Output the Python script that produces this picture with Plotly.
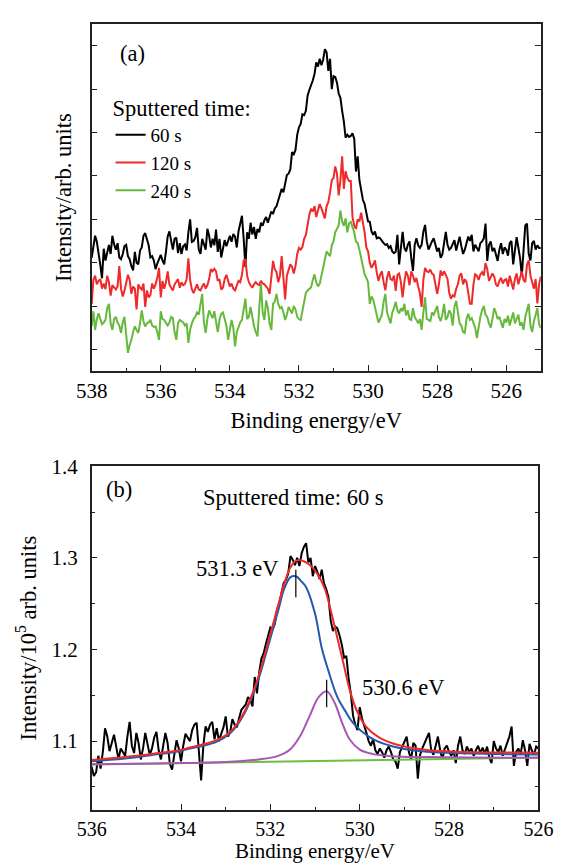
import numpy as np
import plotly.graph_objects as go

# ---------------- Panel (a): O 1s spectra, arbitrary units ----------------
# energies run from 538.00 eV down to 525.00 eV in 0.05 eV steps (one row = 1 eV)
a_start, a_step = 538.0, 0.05
int_60s = [
    2.11, 2.34, 2.62, 2.48, 2.26, 1.95, 1.64, 2.32, 2.05, 2.28, 2.41, 2.20, 2.62, 2.42, 2.30, 2.45, 2.12, 2.08, 2.20, 2.38,
    2.41, 2.15, 2.08, 1.92, 1.82, 2.25, 2.00, 1.96, 2.28, 2.35, 2.62, 2.68, 2.55, 2.40, 2.12, 2.15, 2.05, 1.85, 1.98, 2.10,
    2.18, 2.05, 1.96, 2.25, 2.60, 2.72, 2.48, 2.30, 2.55, 2.58, 2.22, 2.45, 2.20, 2.38, 2.42, 2.28, 2.70, 3.00, 2.48, 2.50,
    2.58, 2.80, 2.30, 2.20, 2.55, 2.42, 2.30, 2.78, 2.62, 2.35, 2.55, 2.40, 2.76, 2.25, 2.55, 2.12, 2.30, 2.52, 2.38, 2.50,
    2.62, 2.48, 2.66, 2.60, 2.35, 2.72, 2.90, 3.08, 2.55, 1.90, 2.70, 2.55, 2.92, 2.65, 2.82, 2.55, 2.78, 2.70, 2.92, 2.85,
    2.98, 3.05, 2.92, 3.08, 3.18, 3.12, 3.25, 3.30, 3.45, 3.55, 3.70, 3.62, 3.85, 4.02, 4.05, 4.15, 4.55, 4.50, 4.60, 4.95,
    5.12, 5.20, 5.42, 5.40, 5.50, 5.85, 5.98, 6.08, 6.20, 6.35, 6.62, 6.52, 6.70, 6.55, 6.68, 6.92, 6.85, 6.42, 6.70, 6.00,
    6.30, 6.28, 6.15, 5.90, 5.80, 5.50, 5.25, 4.88, 4.95, 4.90, 4.92, 4.98, 4.85, 4.10, 4.45, 3.90, 3.70, 3.45, 3.35, 3.15,
    2.95, 2.94, 2.72, 2.64, 2.72, 2.56, 2.58, 2.56, 2.49, 2.45, 2.41, 2.43, 2.34, 2.38, 2.26, 2.22, 2.25, 2.64, 1.96, 2.40,
    2.71, 2.34, 2.26, 2.41, 2.49, 2.11, 1.81, 2.41, 2.56, 2.40, 2.34, 2.41, 2.71, 2.87, 2.49, 2.30, 2.41, 2.49, 2.56, 2.38,
    2.26, 2.34, 2.11, 2.19, 2.49, 2.71, 2.41, 2.30, 2.34, 2.45, 2.52, 2.28, 2.41, 2.60, 2.38, 2.20, 2.30, 2.45, 2.60, 2.50,
    2.64, 2.26, 2.41, 2.34, 2.26, 2.45, 2.49, 2.56, 2.90, 2.04, 2.41, 2.49, 2.26, 2.34, 2.19, 2.04, 2.30, 2.45, 2.20, 2.35,
    2.30, 2.16, 2.45, 2.50, 1.96, 2.30, 2.59, 2.35, 2.10, 1.70, 2.40, 2.86, 2.90, 2.20, 2.05, 2.45, 2.50, 2.30, 2.40, 2.34,
    2.34,
]
int_120s = [
    1.05, 1.60, 1.70, 1.50, 1.58, 1.62, 1.40, 1.52, 1.39, 1.70, 1.55, 1.24, 1.48, 1.42, 1.38, 1.45, 1.92, 1.40, 1.22, 1.35,
    1.58, 1.72, 1.60, 1.28, 1.45, 1.40, 0.92, 1.50, 1.42, 1.38, 1.52, 0.98, 1.36, 1.20, 1.25, 1.52, 1.40, 1.50, 1.65, 1.88,
    1.20, 1.58, 1.40, 1.55, 1.80, 1.50, 1.42, 1.36, 1.50, 1.55, 1.62, 1.42, 1.55, 1.48, 1.51, 1.62, 2.10, 1.60, 1.38, 1.30,
    1.42, 1.50, 1.38, 1.36, 1.45, 1.52, 1.40, 1.48, 1.62, 1.85, 1.80, 1.86, 1.80, 1.58, 1.62, 1.38, 1.42, 1.62, 1.72, 1.55,
    1.45, 1.52, 1.40, 1.36, 1.48, 1.58, 1.55, 1.72, 2.05, 2.08, 1.70, 1.55, 1.48, 1.42, 1.50, 1.55, 1.50, 1.48, 1.58, 1.52,
    1.50, 1.46, 1.40, 1.28, 1.62, 2.04, 1.85, 1.78, 1.55, 1.70, 2.15, 1.60, 1.15, 1.70, 1.85, 1.96, 1.90, 1.75, 1.92, 2.20,
    2.34, 2.30, 2.36, 2.55, 2.64, 2.90, 3.10, 3.24, 3.18, 3.30, 3.05, 3.20, 3.35, 3.25, 3.12, 3.02, 3.30, 3.40, 3.62, 3.90,
    3.95, 4.22, 4.05, 3.55, 3.90, 4.45, 3.70, 4.11, 3.95, 3.88, 3.88, 3.05, 2.86, 2.78, 3.00, 2.95, 3.15, 2.92, 2.70, 2.35,
    2.26, 2.00, 1.88, 1.95, 2.05, 1.78, 1.58, 1.72, 1.80, 1.55, 1.36, 1.65, 1.80, 1.62, 1.60, 1.70, 1.35, 1.72, 1.75, 1.55,
    1.20, 1.55, 1.80, 1.70, 1.48, 1.80, 1.70, 1.55, 1.65, 1.45, 1.30, 0.98, 1.60, 1.88, 1.80, 1.78, 1.84, 1.75, 1.72, 1.50,
    1.28, 1.50, 1.82, 1.70, 1.80, 1.72, 1.62, 1.30, 1.17, 1.25, 1.22, 1.40, 1.50, 1.70, 1.75, 1.50, 1.62, 1.55, 1.28, 1.05,
    1.05, 1.50, 1.73, 1.70, 1.60, 1.73, 1.78, 1.70, 1.99, 1.85, 1.58, 1.65, 1.75, 1.68, 1.50, 1.45, 1.58, 1.65, 1.52, 1.60,
    1.62, 1.45, 1.70, 1.55, 1.38, 1.62, 1.75, 1.50, 1.66, 1.80, 1.60, 1.55, 1.95, 2.05, 1.70, 1.55, 1.40, 1.62, 1.06, 1.50,
    1.68,
]
int_240s = [
    0.53, 0.88, 0.45, 0.70, 0.83, 0.72, 0.58, 0.62, 0.68, 0.95, 1.05, 0.60, 0.45, 0.70, 0.75, 0.62, 0.55, 0.38, 0.62, 0.75,
    0.30, -0.08, 0.10, 0.22, 0.40, 0.53, 0.45, 0.38, 0.60, 0.90, 0.65, 0.53, 0.60, 0.62, 0.68, 0.55, 0.52, 0.53, 0.40, 0.22,
    0.88, 0.70, 0.68, 0.60, 0.55, 0.62, 0.75, 0.72, 0.40, 0.22, 0.60, 0.68, 0.65, 0.62, 0.55, 0.60, 0.15, 0.45, 0.60, 0.70,
    0.75, 0.85, 0.80, 1.05, 1.28, 0.62, 0.38, 0.70, 0.90, 0.80, 0.72, 0.88, 0.60, 0.40, 0.68, 0.82, 0.85, 0.70, 0.55, 0.22,
    0.45, 0.68, 0.50, 0.07, 0.40, 0.53, 0.62, 0.68, 0.90, 1.17, 0.70, 0.75, 0.98, 0.72, 0.53, 0.40, 0.30, 0.95, 1.51, 0.85,
    0.68, 1.13, 0.95, 0.60, 0.45, 1.05, 1.10, 1.28, 1.05, 0.95, 0.98, 0.85, 0.68, 0.80, 0.98, 0.90, 0.83, 1.00, 0.92, 0.75,
    0.70, 0.68, 0.88, 1.13, 1.30, 1.36, 1.40, 1.43, 1.60, 1.73, 1.55, 1.45, 1.51, 1.70, 1.88, 2.10, 2.26, 2.20, 2.15, 2.40,
    2.49, 2.70, 2.79, 2.86, 3.20, 2.95, 2.85, 3.02, 2.70, 2.90, 2.94, 2.80, 2.70, 2.49, 2.45, 2.30, 2.12, 1.95, 1.73, 1.65,
    1.55, 1.05, 1.22, 1.15, 0.95, 0.78, 0.62, 0.70, 0.80, 1.10, 1.28, 0.85, 0.70, 0.60, 0.85, 0.95, 1.10, 0.90, 0.83, 0.95,
    0.88, 1.05, 0.78, 0.90, 0.70, 0.68, 0.95, 0.75, 0.68, 0.60, 0.70, 0.45, 0.85, 1.20, 0.70, 0.68, 0.64, 0.85, 0.80, 0.90,
    1.00, 0.75, 0.65, 0.80, 1.05, 0.68, 0.75, 0.90, 0.82, 0.55, 0.98, 1.12, 0.83, 0.60, 0.55, 0.40, 0.38, 0.70, 0.82, 0.68,
    0.72, 0.60, 0.50, 0.26, 0.55, 0.75, 0.90, 1.00, 0.80, 0.75, 0.60, 0.50, 0.70, 0.95, 0.85, 0.70, 0.75, 0.60, 0.50, 0.70,
    0.62, 0.78, 0.55, 0.70, 0.85, 0.60, 0.72, 0.80, 0.55, 0.62, 0.45, 0.75, 0.90, 1.05, 0.55, 0.40, 0.65, 0.80, 0.95, 0.58,
    0.49,
]
a_series = [("60 s", int_60s, "#000000"), ("120 s", int_120s, "#ee2a2a"), ("240 s", int_240s, "#67b93e")]

# ---------------- Panel (b): 60 s spectrum with fit (10^5 arb. units) ----------------
b_start, b_step = 536.0, 0.05
raw_60s = [
    1.072, 1.062, 1.066, 1.084, 1.070, 1.088, 1.114, 1.105, 1.089, 1.098, 1.107, 1.094, 1.080, 1.092, 1.088, 1.084, 1.105, 1.121, 1.095, 1.087,
    1.109, 1.098, 1.080, 1.092, 1.109, 1.098, 1.085, 1.092, 1.104, 1.110, 1.090, 1.080, 1.095, 1.109, 1.098, 1.075, 1.069, 1.085, 1.101, 1.092,
    1.078, 1.095, 1.108, 1.104, 1.100, 1.112, 1.118, 1.120, 1.085, 1.057, 1.095, 1.116, 1.110, 1.118, 1.121, 1.102, 1.114, 1.100, 1.108, 1.115,
    1.127, 1.105, 1.110, 1.124, 1.118, 1.115, 1.125, 1.134, 1.137, 1.140, 1.148, 1.145, 1.138, 1.170, 1.152, 1.175, 1.190, 1.196, 1.206, 1.215,
    1.224, 1.222, 1.228, 1.244, 1.250, 1.262, 1.273, 1.276, 1.283, 1.302, 1.298, 1.292, 1.300, 1.291, 1.305, 1.312, 1.316, 1.295, 1.300, 1.280,
    1.291, 1.285, 1.277, 1.287, 1.272, 1.266, 1.257, 1.232, 1.220, 1.225, 1.223, 1.215, 1.205, 1.191, 1.193, 1.169, 1.152, 1.128, 1.118, 1.112,
    1.137, 1.125, 1.118, 1.109, 1.100, 1.095, 1.102, 1.090, 1.086, 1.092, 1.088, 1.082, 1.090, 1.094, 1.088, 1.080, 1.078, 1.070, 1.088, 1.094,
    1.100, 1.105, 1.088, 1.080, 1.098, 1.095, 1.059, 1.085, 1.092, 1.098, 1.105, 1.109, 1.090, 1.085, 1.095, 1.105, 1.090, 1.080, 1.092, 1.095,
    1.088, 1.084, 1.090, 1.076, 1.095, 1.105, 1.090, 1.086, 1.094, 1.088, 1.092, 1.084, 1.090, 1.095, 1.087, 1.093, 1.086, 1.094, 1.082, 1.076,
    1.100, 1.092, 1.088, 1.095, 1.084, 1.090, 1.098, 1.105, 1.116, 1.073, 1.088, 1.092, 1.085, 1.101, 1.090, 1.073, 1.097, 1.090, 1.085, 1.094,
    1.092,
]
# fitted envelope (red) sampled from the figure
env_E = [536.0, 535.5, 535.0, 534.5, 534.1, 533.8, 533.5, 533.2, 532.9, 532.7, 532.55, 532.4, 532.25, 532.1,
         531.95, 531.8, 531.7, 531.56, 531.45, 531.34, 531.13, 530.92, 530.78, 530.64, 530.5, 530.36, 530.22,
         530.07, 529.86, 529.58, 529.16, 528.59, 527.89, 527.0, 526.0]
env_I = [1.0793, 1.0815, 1.0840, 1.0870, 1.0895, 1.0930, 1.0965, 1.1010, 1.1100, 1.1220, 1.1350, 1.1520, 1.1730, 1.1990,
         1.2260, 1.2530, 1.2700, 1.2890, 1.2960, 1.2975, 1.2928, 1.2803, 1.2660, 1.2410, 1.2123, 1.1838, 1.1551,
         1.1337, 1.1158, 1.1044, 1.0961, 1.0908, 1.0883, 1.0876, 1.0872]
# component at 531.3 eV (blue)
c1_E = [536.0, 535.5, 535.0, 534.5, 534.1, 533.8, 533.5, 533.2, 532.9, 532.7, 532.55, 532.4, 532.25, 532.1,
        531.95, 531.8, 531.7, 531.55, 531.43, 531.3, 531.2, 531.0, 530.85, 530.7, 530.5, 530.3, 530.15,
        529.8, 529.45, 529.0, 528.5, 528.0, 527.0, 526.0]
c1_I = [1.0780, 1.0800, 1.0825, 1.0860, 1.0883, 1.0920, 1.0950, 1.0995, 1.1087, 1.1205, 1.1330, 1.1498, 1.1700, 1.1950,
        1.2210, 1.2470, 1.2650, 1.2790, 1.2800, 1.2740, 1.2680, 1.2390, 1.2016, 1.1766, 1.1480, 1.1310, 1.1200,
        1.1050, 1.0970, 1.0915, 1.0885, 1.0872, 1.0860, 1.0854]
# component at 530.6 eV (purple)
c2_E = [536.0, 535.0, 534.0, 533.0, 532.26, 531.84, 531.56, 531.34, 531.13, 530.92, 530.74, 530.57, 530.39,
        530.22, 530.0, 529.72, 529.3, 528.5, 527.5, 526.0]
c2_I = [1.0747, 1.0752, 1.0760, 1.0772, 1.0800, 1.0836, 1.0908, 1.1050, 1.1265, 1.1480, 1.1544, 1.1426, 1.1194,
        1.1015, 1.0908, 1.0861, 1.0836, 1.0826, 1.0822, 1.0818]
# background (green)
bg_E = [536.0, 526.0]
bg_I = [1.0745, 1.0822]
# peak-position markers
mark1_E, mark1_I = [531.43, 531.43], [1.257, 1.287]
mark2_E, mark2_I = [530.74, 530.74], [1.137, 1.167]

energy_a = np.round(a_start - a_step * np.arange(len(int_60s)), 2)
energy_b = np.round(b_start - b_step * np.arange(len(raw_60s)), 2)

W, H = 570, 863
FONT = "Liberation Serif"
TXT = 22.5   # annotation / title size
TCK = 21     # tick label size

fig = go.Figure()
for name, ys, col in a_series:
    fig.add_trace(go.Scatter(x=energy_a, y=ys, mode="lines", name=name,
                             line=dict(color=col, width=2), xaxis="x", yaxis="y"))

fig.add_trace(go.Scatter(x=energy_b, y=raw_60s, mode="lines", showlegend=False,
                         line=dict(color="#000000", width=2), xaxis="x2", yaxis="y2"))
fig.add_trace(go.Scatter(x=bg_E, y=bg_I, mode="lines", showlegend=False,
                         line=dict(color="#6cbf3f", width=2), xaxis="x2", yaxis="y2"))
fig.add_trace(go.Scatter(x=c2_E, y=c2_I, mode="lines", showlegend=False, line_shape="spline",
                         line=dict(color="#a856b5", width=2), xaxis="x2", yaxis="y2"))
fig.add_trace(go.Scatter(x=c1_E, y=c1_I, mode="lines", showlegend=False, line_shape="spline",
                         line=dict(color="#2459ad", width=2), xaxis="x2", yaxis="y2"))
fig.add_trace(go.Scatter(x=env_E, y=env_I, mode="lines", showlegend=False, line_shape="spline",
                         line=dict(color="#ee2a2a", width=2), xaxis="x2", yaxis="y2"))
for mx, my in [(mark1_E, mark1_I), (mark2_E, mark2_I)]:
    fig.add_trace(go.Scatter(x=mx, y=my, mode="lines", showlegend=False,
                             line=dict(color="#000000", width=1.2), xaxis="x2", yaxis="y2"))

axis_common = dict(showline=True, linecolor="#222222", linewidth=1.5, ticks="inside",
                   tickcolor="#222222", tickwidth=1.3, ticklen=6, showgrid=False, zeroline=False)

def note(text, x, y, xref="paper", yref="paper"):
    return dict(text=text, x=x, y=y, xref=xref, yref=yref, showarrow=False,
                xanchor="center", yanchor="middle", font=dict(family=FONT, size=TXT))

fig.update_layout(
    width=W, height=H, margin=dict(l=0, r=0, t=0, b=0),
    paper_bgcolor="white", plot_bgcolor="white",
    font=dict(family=FONT, size=20, color="black"),
    xaxis=dict(domain=[80 / W, 555 / W], anchor="y", range=[538, 525], autorange=False,
               tick0=0, dtick=2, mirror=True,
               tickfont=dict(family=FONT, size=TCK, color="black"),
               minor=dict(dtick=1, ticks="inside", ticklen=3.5, tickcolor="#222222", tickwidth=1.2),
               title=dict(text="Binding energy/eV", font=dict(family=FONT, size=TXT), standoff=10),
               **axis_common),
    yaxis=dict(domain=[1 - 365 / H, 1 - 12.3 / H], anchor="x", range=[-0.5, 7.5], autorange=False,
               tick0=0, dtick=1, showticklabels=False, mirror="ticks",
               title=dict(text="Intensity/arb. units", font=dict(family=FONT, size=TXT), standoff=12),
               **axis_common),
    xaxis2=dict(domain=[80 / W, 552.5 / W], anchor="y2", range=[536, 526], autorange=False,
                tick0=0, dtick=2, mirror=True,
                tickfont=dict(family=FONT, size=20, color="black"),
                minor=dict(dtick=1, ticks="inside", ticklen=3.5, tickcolor="#222222", tickwidth=1.2),
                title=dict(text="Binding energy/eV", font=dict(family=FONT, size=21), standoff=9),
                **axis_common),
    yaxis2=dict(domain=[1 - 811 / H, 1 - 461.7 / H], anchor="x2", range=[1.025, 1.4], autorange=False,
                tick0=1.0, dtick=0.1, tickformat=".1f", mirror="ticks", ticklabelstandoff=8,
                tickfont=dict(family=FONT, size=TCK, color="black"),
                minor=dict(dtick=0.05, ticks="inside", ticklen=3.5, tickcolor="#222222", tickwidth=1.2),
                title=dict(text="Intensity/10<sup>5</sup> arb. units", font=dict(family=FONT, size=TXT), standoff=9),
                **axis_common),
    legend=dict(x=100 / W, y=1 - 76 / H, xanchor="left", yanchor="top",
                bgcolor="rgba(0,0,0,0)", borderwidth=0,
                font=dict(family=FONT, size=19),
                title=dict(text="Sputtered time:", font=dict(family=FONT, size=TXT))),
    annotations=[
        note("(a)", 123 / W, 1 - 42.5 / H),
        note("(b)", 109.3 / W, 1 - 485 / H),
        note("Sputtered time: 60 s", 293.5 / W, 1 - 494 / H),
        note("531.3 eV", 532.73, 1.288, "x2", "y2"),
        note("530.6 eV", 529.02, 1.1587, "x2", "y2"),
    ],
)

fig.write_html("out.html")
